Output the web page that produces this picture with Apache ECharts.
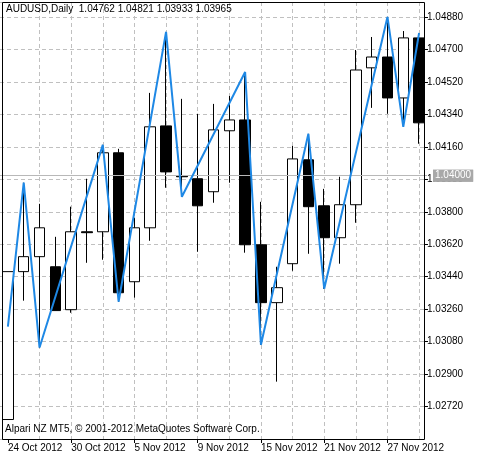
<!DOCTYPE html>
<html>
<head>
<meta charset="UTF-8">
<script src="https://cdn.jsdelivr.net/npm/echarts@6/dist/echarts.min.js"></script>
<style>
  * { margin: 0; padding: 0; }
  body { background: #fff; }
  #main { width: 477px; height: 460px; }
</style>
</head>
<body>
<div id="main"></div>
<script>
  // 日期
  var dates = ['24 Oct 2012','25 Oct 2012','26 Oct 2012','29 Oct 2012','30 Oct 2012','31 Oct 2012',
    '1 Nov 2012','2 Nov 2012','5 Nov 2012','6 Nov 2012','7 Nov 2012','8 Nov 2012','9 Nov 2012',
    '12 Nov 2012','13 Nov 2012','14 Nov 2012','15 Nov 2012','16 Nov 2012','19 Nov 2012','20 Nov 2012',
    '21 Nov 2012','22 Nov 2012','23 Nov 2012','26 Nov 2012','27 Nov 2012','28 Nov 2012','29 Nov 2012'];
  var opens  = [1.02648,1.03468,1.03551,1.03495,1.03257,1.03689,1.03689,1.04127,1.03412,1.03711,1.04276,1.03999,1.03983,1.03911,1.04249,1.04309,1.03617,1.03296,1.03512,1.04088,1.03833,1.03656,1.03839,1.04598,1.04658,1.04431,1.04764];
  var closes = [1.03468,1.03551,1.03711,1.03252,1.03689,1.03684,1.04127,1.03351,1.03711,1.04271,1.04021,1.03994,1.03833,1.04254,1.04309,1.03617,1.03296,1.03379,1.04093,1.03828,1.03656,1.03839,1.04586,1.04658,1.04431,1.04764,1.04293];
  var lows   = [1.02648,1.03307,1.03047,1.03252,1.03240,1.03517,1.03534,1.03301,1.03324,1.03639,1.03933,1.03883,1.03578,1.03850,1.03961,1.03573,1.03063,1.02858,1.03473,1.03567,1.03373,1.03512,1.03739,1.04376,1.04343,1.04271,1.04177];
  var highs  = [1.03468,1.03961,1.03844,1.03661,1.03828,1.03983,1.04171,1.04149,1.03767,1.04459,1.04797,1.04426,1.04343,1.04398,1.04442,1.04575,1.03855,1.03495,1.04165,1.04232,1.03927,1.03994,1.04697,1.04769,1.04880,1.04802,1.04791];
  // ZigZag 指标
  var zigzag = [1.03163,1.03961,1.03047,null,null,null,1.04171,1.03301,null,null,1.04797,1.03883,null,null,null,1.04575,1.03063,null,null,1.04232,1.03373,null,null,null,1.04880,1.04271,1.04791];
  var priceLines = [1.04027, 1.03965];
  var labelDays = [0, 4, 8, 12, 16, 20, 24];

  var font = 'Liberation Sans';
  var candles = [];
  for (var i = 0; i < dates.length; i++) {
    candles.push([opens[i], closes[i], lows[i], highs[i]]);
  }

  var myChart = echarts.init(document.getElementById('main'));
  var option = {
    animation: false,
    backgroundColor: '#fff',
    textStyle: { fontFamily: font },
    grid: { left: -5, right: 50, top: 2, bottom: 21 },
    graphic: [
      { type: 'rect', shape: { x: 2.5, y: 2.5, width: 422, height: 437 }, style: { fill: 'none', stroke: '#000', lineWidth: 1 }, z: 10 },
      { type: 'text', left: 6, top: 4, style: { text: 'AUDUSD,Daily  1.04762 1.04821 1.03933 1.03965', font: '10px ' + font, fill: '#000' }, z: 10 },
      { type: 'text', left: 5, top: 424, style: { text: 'Alpari NZ MT5, © 2001-2012 MetaQuotes Software Corp.', font: '10px ' + font, fill: '#000' }, z: 10 }
    ],
    xAxis: {
      type: 'category',
      data: dates,
      boundaryGap: true,
      axisLine: { show: false },
      axisTick: {
        show: true, alignWithLabel: true, length: 4, lineStyle: { color: '#000' },
        interval: function (idx) { return labelDays.indexOf(idx) >= 0; }
      },
      axisLabel: {
        color: '#000', fontSize: 10, align: 'left', margin: 4,
        interval: function (idx) { return labelDays.indexOf(idx) >= 0; }
      },
      splitLine: {
        show: true, alignWithLabel: true,
        interval: function (idx) { return idx % 2 === 0 && idx > 0; },
        lineStyle: { color: '#c0c0c0', type: [4, 3] }
      }
    },
    yAxis: {
      type: 'value',
      position: 'right',
      offset: -3,
      min: 1.0254,
      max: 1.04963,
      interval: 0.0018,
      axisLine: { show: false },
      axisTick: { show: true, length: 4, lineStyle: { color: '#000' } },
      axisLabel: {
        color: '#000', fontSize: 10, margin: 3, showMinLabel: false, showMaxLabel: false,
        formatter: function (v) { return v.toFixed(5); }
      },
      splitLine: { show: true, lineStyle: { color: '#c0c0c0', type: [4, 3] } }
    },
    series: [
      {
        type: 'candlestick',
        data: candles,
        barWidth: 11,
        itemStyle: { color: '#fff', color0: '#000', borderColor: '#000', borderColor0: '#000', borderWidth: 1 },
        markLine: {
          symbol: 'none',
          silent: true,
          lineStyle: { color: '#b8b8b8', type: 'solid', width: 1 },
          label: {
            position: 'end', distance: 6, color: '#fff', backgroundColor: '#a8a8a8',
            fontSize: 10, padding: [1, 2], formatter: function (p) { return p.value.toFixed(5); }
          },
          data: priceLines.map(function (v) { return { yAxis: v }; })
        }
      },
      {
        type: 'line',
        data: zigzag,
        connectNulls: true,
        symbol: 'none',
        lineStyle: { color: '#1e88e5', width: 2 },
        z: 5
      }
    ]
  };
  myChart.setOption(option);
</script>
</body>
</html>
